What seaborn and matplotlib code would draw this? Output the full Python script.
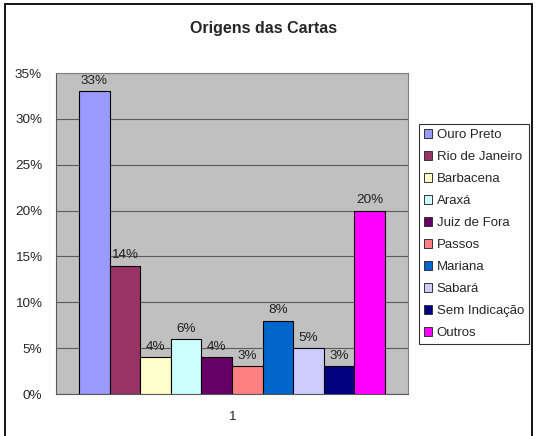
import matplotlib
matplotlib.use("Agg")
import matplotlib.pyplot as plt
import matplotlib.patches as mpatches
from matplotlib.ticker import FuncFormatter, FixedLocator
import seaborn as sns
import pandas as pd

origens = ["Ouro Preto", "Rio de Janeiro", "Barbacena", "Araxá", "Juiz de Fora",
           "Passos", "Mariana", "Sabará", "Sem Indicação", "Outros"]
valores = [33, 14, 4, 6, 4, 3, 8, 5, 3, 20]
cores = ["#9999FF", "#993366", "#FFFFCC", "#CCFFFF", "#660066",
         "#FF8080", "#0066CC", "#CCCCFF", "#000080", "#FF00FF"]
categoria = ["1"] * len(origens)
titulo = "Origens das Cartas"

sns.set_style("white")
plt.rcParams["font.family"] = ["Liberation Sans", "DejaVu Sans"]

df = pd.DataFrame({"grupo": categoria, "origem": origens, "valor": valores})

fig = plt.figure(figsize=(5.37, 4.36), dpi=100)
ax = fig.add_axes([56/537, 1-394/436, (408-56)/537, (394-73)/436])
ax.set_facecolor("#C0C0C0")

sns.barplot(data=df, x="grupo", y="valor", hue="origem", hue_order=origens,
            palette=cores, width=0.87, gap=0, dodge=True, edgecolor="black",
            linewidth=0.8, saturation=1, legend=True, ax=ax, zorder=3)

for cont in ax.containers:
    ax.bar_label(cont, labels=[f"{v:.0f}%" for v in cont.datavalues],
                 padding=3, fontsize=9.7, color="#222222")

ax.set_ylim(0, 35)
ax.set_xlim(-0.5, 0.5)
ax.yaxis.set_major_locator(FixedLocator(range(0, 36, 5)))
ax.yaxis.set_major_formatter(FuncFormatter(lambda v, p: f"{v:.0f}%"))
ax.grid(axis="y", color="#5a5a5a", linewidth=0.8, zorder=0)
ax.set_axisbelow(True)
ax.set_xlabel("")
ax.set_ylabel("")
ax.tick_params(axis="y", length=5, width=0.8, color="#5a5a5a", labelsize=9.7, pad=5)
ax.tick_params(axis="x", length=0, labelsize=9.7, pad=12)
for s in ax.spines.values():
    s.set_color("#808080")
    s.set_linewidth(0.8)
ax.spines["left"].set_color("#5a5a5a")
ax.spines["bottom"].set_color("#5a5a5a")

fig.text(263.5/537, 1-28/436, titulo, ha="center", va="center",
         fontsize=11.5, fontweight="bold")

leg = ax.legend(loc="upper left", bbox_to_anchor=(419/537, 1-124/436),
                bbox_transform=fig.transFigure, fontsize=9.5, frameon=True,
                fancybox=False, borderaxespad=0, handlelength=0.6,
                handleheight=0.6, handletextpad=0.35, labelspacing=0.76,
                borderpad=0.38, title=None)
leg.get_frame().set_edgecolor("black")
leg.get_frame().set_linewidth(0.8)
for h in leg.legend_handles:
    h.set_edgecolor("#333333")
    h.set_linewidth(0.7)

fig.patches.append(mpatches.Rectangle((5/537, -0.05), (532-5)/537, 1.05-4/436,
                                      transform=fig.transFigure, fill=False,
                                      edgecolor="black", linewidth=1.3))

fig.savefig("out.png", dpi=100)
